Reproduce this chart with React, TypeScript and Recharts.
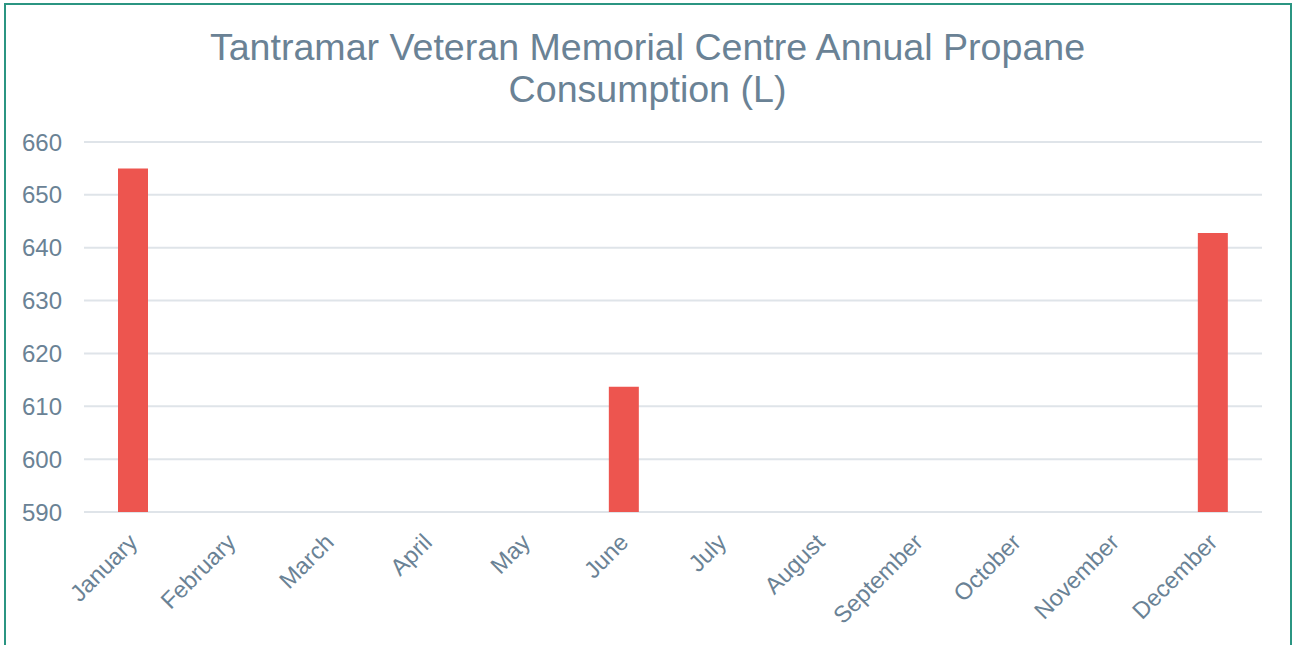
import React from "react";
import { BarChart, Bar, XAxis, YAxis, CartesianGrid } from "recharts";

// months on the category axis
const months = [
  "January",
  "February",
  "March",
  "April",
  "May",
  "June",
  "July",
  "August",
  "September",
  "October",
  "November",
  "December",
];

// propane use in litres, only three months were recorded
const propane: (number | null)[] = [
  655, null, null, null, null, 613.7, null, null, null, null, null, 642.8,
];

const yTicks = [590, 600, 610, 620, 630, 640, 650, 660];

const titleLines = [
  "Tantramar Veteran Memorial Centre Annual Propane",
  "Consumption (L)",
];

const FONT = '"Liberation Sans", Arial, Helvetica, sans-serif';
const TEXT = "#6a8295";

export default function App() {
  const data = months.map((m, i) => ({ month: m, propane: propane[i] }));

  return (
    <div
      style={{
        position: "absolute",
        left: 0,
        top: 0,
        width: 1292,
        height: 645,
        overflow: "hidden",
        background: "#fff",
        fontFamily: FONT,
      }}
    >
      {/* framed card */}
      <div
        style={{
          position: "absolute",
          left: 4,
          top: 3,
          width: 1284,
          height: 700,
          border: "2px solid #2b9582",
        }}
      />
      <div
        style={{
          position: "absolute",
          left: 0,
          top: 26,
          width: 1295,
          textAlign: "center",
          fontSize: 37.6,
          lineHeight: "42px",
          color: TEXT,
        }}
      >
        {titleLines.map((t) => (
          <div key={t}>{t}</div>
        ))}
      </div>
      <div style={{ position: "absolute", left: 0, top: 0 }}>
        <BarChart
          width={1292}
          height={645}
          data={data}
          margin={{ top: 142, right: 30, bottom: 0, left: 24 }}
        >
          <CartesianGrid
            vertical={false}
            stroke="#dfe4e9"
            strokeWidth={2}
          />
          <XAxis
            dataKey="month"
            interval={0}
            axisLine={false}
            tickLine={false}
            tickSize={0}
            tickMargin={20}
            angle={-45}
            textAnchor="end"
            height={133}
            tick={{ fill: TEXT, fontSize: 23.5, fontFamily: FONT, dx: -6 }}
          />
          <YAxis
            domain={[590, 660]}
            ticks={yTicks}
            interval={0}
            axisLine={false}
            tickLine={false}
            tickSize={0}
            tickMargin={22}
            width={60}
            tick={{ fill: TEXT, fontSize: 24, fontFamily: FONT }}
          />
          <Bar
            dataKey="propane"
            fill="#ed554f"
            barSize={30}
            isAnimationActive={false}
          />
        </BarChart>
      </div>
    </div>
  );
}
